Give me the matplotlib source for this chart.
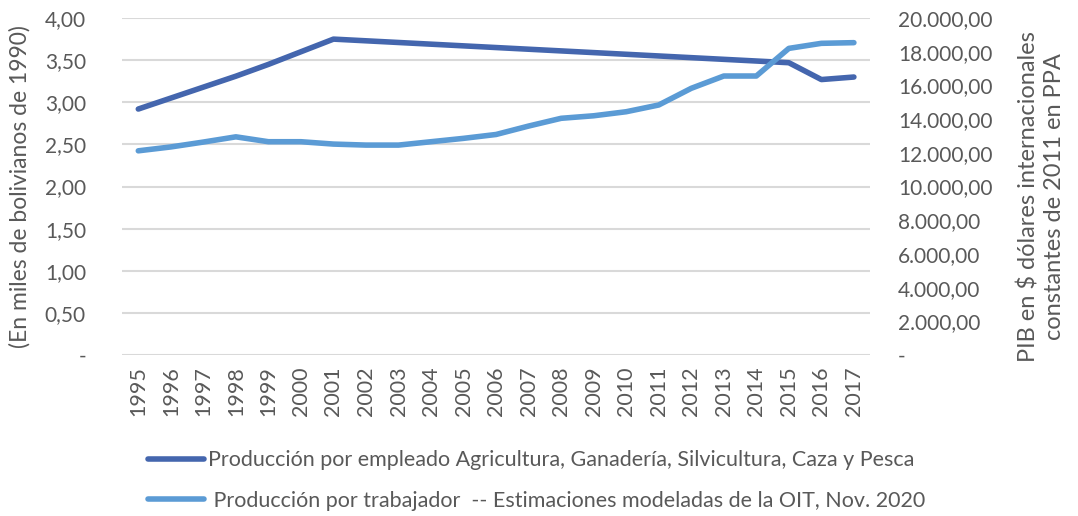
import matplotlib
matplotlib.use("Agg")
import matplotlib.pyplot as plt
from matplotlib.ticker import FixedLocator

plt.rcParams["font.family"] = ["Lato", "DejaVu Sans"]

# datos
years = [str(y) for y in range(1995, 2018)]
prod_empleado = [2.92, 3.05, 3.18, 3.31, 3.45, 3.60, 3.75, 3.73, 3.71, 3.69, 3.67,
                 3.65, 3.63, 3.61, 3.59, 3.57, 3.55, 3.53, 3.51, 3.49, 3.47, 3.27, 3.30]
prod_trabajador = [12120, 12350, 12640, 12950, 12660, 12660, 12520, 12460, 12460, 12660, 12860,
                   13090, 13590, 14050, 14200, 14440, 14840, 15830, 16560, 16560, 18200, 18500, 18540]

left_ticks = [0, 0.5, 1.0, 1.5, 2.0, 2.5, 3.0, 3.5, 4.0]
left_labels = ["-", "0,50", "1,00", "1,50", "2,00", "2,50", "3,00", "3,50", "4,00"]
right_ticks = [0, 2000, 4000, 6000, 8000, 10000, 12000, 14000, 16000, 18000, 20000]
right_labels = ["-", "2.000,00", "4.000,00", "6.000,00", "8.000,00", "10.000,00",
                "12.000,00", "14.000,00", "16.000,00", "18.000,00", "20.000,00"]

DARK = "#4466AE"
LIGHT = "#5B9BD5"
TXT = "#595959"
GRID = "#D9D9D9"

fig = plt.figure(figsize=(10.78, 5.16), dpi=100)
ax = fig.add_axes([0.1132, 0.312, 0.694, 0.653])
ax2 = ax.twinx()

x = list(range(len(years)))
l1, = ax.plot(x, prod_empleado, color=DARK, lw=4, solid_capstyle="round", zorder=3)
l2, = ax2.plot(x, prod_trabajador, color=LIGHT, lw=4, solid_capstyle="round", zorder=3)

ax.set_xlim(-0.5, len(years) - 0.5)
ax.set_ylim(0, 4.0)
ax2.set_ylim(0, 20000)

ax.yaxis.set_major_locator(FixedLocator(left_ticks))
ax.set_yticklabels(left_labels)
ax2.yaxis.set_major_locator(FixedLocator(right_ticks))
ax2.set_yticklabels(right_labels)
ax.set_xticks(x)
ax.set_xticklabels(years, rotation=90)

ax.grid(axis="y", color=GRID, lw=1.5)
ax.set_axisbelow(True)
for a in (ax, ax2):
    for s in a.spines.values():
        s.set_visible(False)
    a.tick_params(length=0, labelsize=15, colors=TXT)
ax.tick_params(axis="y", pad=26)
ax2.tick_params(axis="y", pad=20)
ax.tick_params(axis="x", pad=8, labelsize=15.5)

ax.set_ylabel("(En miles de bolivianos de 1990)", fontsize=16.5, color=TXT, labelpad=10)
ax2.set_ylabel("PIB en $ dólares internacionales\nconstantes de 2011 en PPA",
               fontsize=17, color=TXT, rotation=90, linespacing=1.25)
ax2.yaxis.set_label_coords(1.197, 0.47)

fig.legend([l1, l2],
           ["Producción por empleado Agricultura, Ganadería, Silvicultura, Caza y Pesca",
            " Producción por trabajador  -- Estimaciones modeladas de la OIT, Nov. 2020"],
           loc="center", bbox_to_anchor=(0.498, 0.069), ncol=1, frameon=False,
           fontsize=15.5, labelcolor=TXT, handlelength=2.6, handletextpad=0.2,
           labelspacing=0.95)

fig.savefig("out.png", dpi=100)
